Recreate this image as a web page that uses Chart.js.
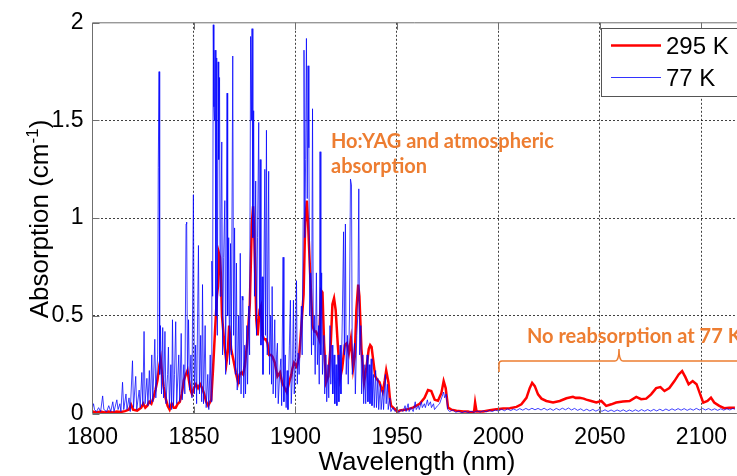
<!DOCTYPE html>
<html>
<head>
<meta charset="utf-8">
<script src="https://cdn.jsdelivr.net/npm/chart.js@4.4.1/dist/chart.umd.min.js"></script>
<style>
html, body { margin: 0; padding: 0; background: #fff; }
#wrap { width: 737px; height: 476px; }
</style>
</head>
<body>
<div id="wrap"><canvas id="myChart" width="737" height="476"></canvas></div>
<script>
// tick labels
const xTicks = [1800, 1850, 1900, 1950, 2000, 2050, 2100]
const yTicks = [0, 0.5, 1, 1.5, 2]
const xMax = 2116.5

// [wavelength nm, absorption cm^-1]
const spectrum295K = [
  [1800,0.01],[1802,0.005],[1804,0.01],[1806,0.005],[1808,0.01],[1810,0.005],[1812,0.01],[1814,0.008],
  [1816,0.012],[1818,0.02],[1819,0.045],[1820,0.02],[1822,0.015],[1824,0.03],[1825,0.05],[1826,0.03],
  [1827,0.04],[1828,0.06],[1829,0.05],[1830,0.08],[1831,0.12],[1832,0.17],[1833,0.25],[1833.6,0.28],
  [1834.3,0.2],[1835,0.14],[1836,0.08],[1837,0.04],[1838,0.02],[1839,0.05],[1840,0.03],[1841,0.03],
  [1842,0.05],[1843,0.06],[1844,0.1],[1845,0.17],[1846,0.2],[1846.8,0.22],[1847.5,0.17],[1848.3,0.12],
  [1849,0.1],[1850,0.13],[1851,0.15],[1852,0.13],[1853,0.15],[1854,0.13],[1855,0.1],[1856,0.06],
  [1857,0.04],[1858,0.06],[1858.5,0.07],[1859.4,0.23],[1860.4,0.43],[1861.3,0.6],[1861.8,0.65],[1862.3,0.82],
  [1862.8,0.8],[1863.2,0.72],[1863.8,0.5],[1865,0.35],[1866,0.26],[1866.7,0.32],[1867.3,0.45],[1868.3,0.33],
  [1869.3,0.28],[1870.6,0.21],[1871.7,0.16],[1872.5,0.2],[1873.4,0.21],[1874.2,0.2],[1875,0.24],[1876.2,0.36],
  [1877.5,0.56],[1878.5,0.97],[1879.1,1.06],[1879.6,0.95],[1880.1,0.75],[1880.7,0.48],[1881.4,0.4],[1882.3,0.53],
  [1883,0.55],[1883.8,0.4],[1884.5,0.38],[1885.4,0.38],[1886.2,0.36],[1887,0.3],[1888,0.3],[1888.7,0.29],
  [1889.8,0.26],[1891.1,0.19],[1892.4,0.21],[1893.4,0.16],[1894.7,0.13],[1895.7,0.11],[1896.9,0.16],[1898,0.2],
  [1898.5,0.23],[1899.3,0.26],[1900.6,0.24],[1901.8,0.29],[1903,0.46],[1904,0.61],[1904.8,0.98],[1905.6,1.09],
  [1906.3,0.95],[1907.3,0.7],[1908.4,0.45],[1909.3,0.42],[1910.1,0.42],[1911,0.4],[1911.7,0.38],[1912.6,0.63],
  [1913.3,0.62],[1914.1,0.36],[1915.1,0.16],[1916.2,0.19],[1917.4,0.36],[1918.2,0.56],[1919,0.59],[1919.8,0.53],
  [1920.8,0.36],[1922,0.18],[1923,0.23],[1924.3,0.35],[1925.3,0.36],[1926.3,0.31],[1927.3,0.38],[1928.4,0.23],
  [1929.2,0.29],[1930,0.53],[1930.9,0.66],[1931.5,0.6],[1932.5,0.33],[1933.8,0.16],[1934.9,0.23],[1936.1,0.33],
  [1936.8,0.35],[1937.5,0.34],[1938.1,0.29],[1939.3,0.19],[1940.5,0.17],[1941.4,0.16],[1942.3,0.13],[1943,0.11],
  [1944,0.17],[1944.7,0.22],[1945.8,0.16],[1946.5,0.08],[1947.1,0.04],[1948.7,0.025],[1950.3,0.01],[1951.4,0.015],
  [1954.6,0.02],[1957.9,0.03],[1961.2,0.05],[1963.6,0.08],[1965.3,0.12],[1966.9,0.115],[1968.6,0.07],[1970.2,0.065],
  [1971.9,0.105],[1973,0.166],[1974,0.13],[1975.2,0.03],[1976.8,0.02],[1979.3,0.014],[1982.6,0.01],[1985,0.01],
  [1986.6,0.005],[1988,0.01],[1988.5,0.056],[1989.2,0.01],[1992.4,0.01],[1995.7,0.017],[1999,0.022],[2002.3,0.025],
  [2005.6,0.027],[2008.9,0.034],[2011.3,0.047],[2013.8,0.08],[2015.4,0.13],[2016.6,0.157],[2017.9,0.14],[2019.5,0.098],
  [2021.2,0.076],[2023.6,0.064],[2026.9,0.056],[2030.2,0.064],[2033.5,0.078],[2036.7,0.085],[2038,0.08],[2040,0.081],
  [2042,0.076],[2043.3,0.071],[2045.7,0.064],[2048.2,0.056],[2050.7,0.064],[2053.1,0.039],[2055.6,0.047],[2058,0.056],
  [2061.3,0.061],[2064.6,0.064],[2067.9,0.085],[2070.3,0.073],[2072.8,0.076],[2075.2,0.098],[2077.7,0.13],[2079.8,0.135],
  [2081.8,0.115],[2084.2,0.13],[2086.7,0.166],[2088.8,0.2],[2090.5,0.217],[2092.1,0.186],[2093.7,0.15],[2095.7,0.166],
  [2097.6,0.15],[2099.4,0.098],[2100.9,0.056],[2103,0.064],[2104.7,0.081],[2106.3,0.056],[2108.8,0.039],[2111.2,0.027],
  [2113.7,0.03],[2117,0.03],[2119,0.03]
]

const spectrum77K = [
  [1800,0.03],[1800.5,0.05],[1801,0.02],[1802,0.01],[1803,0.03],[1804,0.01],[1805,0.09],[1805.6,0.02],
  [1807,0.01],[1808,0.04],[1809,0.01],[1810,0.06],[1810.6,0.01],[1812,0.07],[1812.6,0.02],[1813.5,0.05],
  [1814,0.01],[1814.8,0.16],[1815.4,0.02],[1816.5,0.1],[1817,0.02],[1818,0.08],[1818.6,0.01],[1819.7,0.27],
  [1820.2,0.03],[1821.3,0.19],[1821.8,0.02],[1823,0.12],[1823.5,0.03],[1824.3,0.21],[1824.8,0.04],[1825.4,0.42],
  [1825.9,0.05],[1826.8,0.18],[1827.3,0.04],[1828,0.22],[1828.5,0.05],[1829.2,0.3],[1829.7,0.06],[1830.7,0.38],
  [1831.2,0.08],[1832.1,0.3],[1832.4,1.26],[1832.8,1.75],[1833.1,0.2],[1833.5,0.45],[1834,0.1],[1834.6,0.44],
  [1835,0.08],[1835.7,0.42],[1836.2,0.05],[1837,0.2],[1837.4,0.34],[1837.9,0.03],[1838.6,0.25],[1839,0.02],
  [1839.4,0.48],[1839.9,0.04],[1840.4,0.2],[1841,0.47],[1841.5,0.05],[1842.5,0.3],[1843,0.06],[1843.7,0.41],
  [1844.2,0.07],[1845,0.25],[1845.5,0.1],[1846.1,0.97],[1846.4,0.98],[1846.8,0.2],[1847.3,0.48],[1847.8,0.12],
  [1848.5,0.3],[1849,0.08],[1849.7,1.12],[1850.2,0.1],[1850.8,0.35],[1851.3,0.05],[1852.2,0.86],[1852.7,0.1],
  [1853.3,0.4],[1853.8,0.06],[1854.2,0.66],[1854.7,0.05],[1855.5,0.45],[1856,0.03],[1856.8,0.2],[1857.3,0.02],
  [1858,0.3],[1858.4,0.06],[1858.8,0.78],[1859.2,0.6],[1859.5,1.99],[1859.8,1.57],[1860.1,1.5],[1860.4,1.86],
  [1860.8,0.5],[1861.2,1.82],[1861.5,0.4],[1861.9,1.8],[1862.2,1.3],[1862.6,1.72],[1862.9,0.6],[1863.3,1.0],
  [1863.7,1.39],[1864.1,0.3],[1864.6,0.8],[1865.2,1.09],[1865.6,0.2],[1866.3,1.64],[1866.6,0.5],[1867.1,0.9],
  [1867.5,0.25],[1868,0.87],[1868.4,0.3],[1869.1,1.83],[1869.5,0.4],[1870,0.95],[1870.4,0.2],[1870.9,0.77],
  [1871.3,0.12],[1872,0.5],[1872.4,0.15],[1872.8,0.82],[1873.2,0.1],[1873.7,0.6],[1874.1,0.58],[1874.5,0.08],
  [1875,0.35],[1875.4,0.1],[1876,0.45],[1876.4,0.15],[1877,0.55],[1877.4,0.3],[1877.9,1.93],[1878.3,1.5],
  [1878.6,1.97],[1879,0.9],[1879.4,1.55],[1879.8,0.6],[1880.4,1.19],[1880.8,0.4],[1881.3,0.9],[1881.9,1.49],
  [1882.3,0.5],[1882.6,1.3],[1883,0.35],[1883.6,0.7],[1884,0.2],[1884.9,1.25],[1885.2,0.4],[1885.7,1.45],
  [1886.1,0.3],[1886.8,1.24],[1887.2,0.2],[1887.8,0.5],[1888.2,0.15],[1888.5,0.65],[1889,0.1],[1889.8,0.48],
  [1890.2,0.08],[1890.7,0.3],[1891.1,0.36],[1891.5,0.05],[1892.2,0.2],[1892.8,0.28],[1893.2,0.04],[1893.9,0.8],
  [1894.3,0.06],[1895,0.3],[1895.4,0.03],[1895.9,0.22],[1896.3,0.02],[1897,0.35],[1897.5,0.58],[1897.9,0.05],
  [1898.5,0.2],[1899,0.58],[1899.4,0.1],[1900,0.3],[1900.5,0.68],[1900.9,0.15],[1901.3,0.31],[1901.8,0.2],
  [1902.5,0.4],[1902.9,0.55],[1903.3,0.3],[1903.8,1.0],[1904.2,1.86],[1904.6,0.9],[1905,1.3],[1905.4,1.92],
  [1905.8,1.1],[1906.2,1.78],[1906.6,1.36],[1907,0.5],[1907.5,0.72],[1907.9,0.3],[1908.4,1.56],[1908.8,0.35],
  [1909.3,0.5],[1909.7,0.2],[1910.3,0.72],[1910.8,0.25],[1911.4,0.45],[1911.7,0.15],[1912.1,1.34],[1912.5,0.3],
  [1912.9,0.72],[1913.3,0.2],[1914,0.4],[1914.4,0.1],[1915,0.3],[1915.4,0.06],[1916,0.25],[1916.4,0.08],
  [1917,0.45],[1917.4,0.15],[1918,0.35],[1918.4,0.1],[1919,0.3],[1919.4,0.05],[1920,0.25],[1920.4,0.04],
  [1921,0.3],[1921.4,0.06],[1922,0.35],[1922.4,0.1],[1923.1,0.5],[1923.7,0.93],[1924.1,0.3],[1924.6,0.97],
  [1925,0.2],[1925.6,0.4],[1926,0.15],[1926.6,0.5],[1927.1,1.2],[1927.6,1.17],[1928,0.2],[1928.6,0.3],
  [1929.1,0.36],[1929.5,0.1],[1930.2,0.4],[1930.7,0.5],[1931.2,1.15],[1931.6,0.3],[1932.2,0.45],[1932.6,0.1],
  [1933.2,0.3],[1933.6,0.05],[1934.2,0.25],[1934.6,0.05],[1935.3,0.3],[1935.7,0.06],[1936.3,0.25],[1936.7,0.05],
  [1937.3,0.28],[1937.7,0.04],[1938.4,0.2],[1938.8,0.03],[1939.5,0.22],[1939.9,0.03],[1940.6,0.18],[1941,0.02],
  [1941.8,0.15],[1942.2,0.02],[1943,0.12],[1943.4,0.02],[1944.3,0.2],[1944.7,0.05],[1945.3,0.15],[1945.7,0.02],
  [1946.5,0.08],[1947,0.01],[1948,0.03],[1949,0.01],[1950,0.02],[1951,0.005],[1952,0.02],[1953,0.01],
  [1954,0.04],[1954.5,0.01],[1955.5,0.05],[1956,0.01],[1957,0.03],[1958,0.01],[1959,0.06],[1959.5,0.02],
  [1960.5,0.04],[1961,0.02],[1962,0.06],[1962.5,0.03],[1963.5,0.05],[1964,0.03],[1965,0.07],[1965.5,0.04],
  [1966.5,0.06],[1967,0.03],[1968,0.05],[1968.5,0.02],[1970,0.04],[1971,0.05],[1972,0.08],[1973,0.11],
  [1973.5,0.08],[1974.3,0.1],[1975,0.02],[1976,0.01],[1977.5,0.018],[1979,0.006],[1980.5,0.012],[1982,0.004],
  [1983.5,0.011],[1985,0.005],[1986.5,0.012],[1988,0.006],[1989.5,0.013],[1991,0.007],[1992.5,0.014],[1994,0.009],
  [1995.5,0.016],[1997,0.01],[1998.5,0.018],[2000,0.012],[2001.5,0.022],[2003,0.014],[2004.5,0.024],[2006,0.015],
  [2007.5,0.023],[2009,0.016],[2010.5,0.025],[2012,0.017],[2013.5,0.026],[2015,0.018],[2016.5,0.027],[2018,0.019],
  [2019.5,0.026],[2021,0.018],[2022.5,0.027],[2024,0.017],[2025.5,0.025],[2027,0.016],[2028.5,0.026],[2030,0.018],
  [2031.5,0.027],[2033,0.019],[2034.5,0.028],[2036,0.018],[2037.5,0.026],[2039,0.016],[2040.5,0.024],[2042,0.014],
  [2043.5,0.022],[2045,0.013],[2046.5,0.021],[2048,0.012],[2049.5,0.02],[2051,0.011],[2052.5,0.019],[2054,0.01],
  [2055.5,0.018],[2057,0.01],[2058.5,0.018],[2060,0.011],[2061.5,0.019],[2063,0.01],[2064.5,0.018],[2066,0.011],
  [2067.5,0.019],[2069,0.011],[2070.5,0.02],[2072,0.012],[2073.5,0.02],[2075,0.012],[2076.5,0.021],[2078,0.013],
  [2079.5,0.022],[2081,0.014],[2082.5,0.023],[2084,0.015],[2085.5,0.024],[2087,0.016],[2088.5,0.025],[2090,0.017],
  [2091.5,0.025],[2093,0.016],[2094.5,0.024],[2096,0.017],[2097.5,0.026],[2099,0.018],[2100.5,0.026],[2102,0.018],
  [2103.5,0.025],[2105,0.017],[2106.5,0.024],[2108,0.016],[2109.5,0.024],[2111,0.017],[2112.5,0.025],[2114,0.018],
  [2115.5,0.026],[2117,0.019],[2118.5,0.024]
]

const toPoints = arr => arr.map(([x, y]) => ({ x, y }))

const FRAME = '#6f6f6f'
const ORANGE = 'rgb(237,125,49)'
const FONT = '"Liberation Sans", Arial, sans-serif'

// frame, inner ticks, legend, notes and axis titles
const overlay = {
  id: 'overlay',
  afterDraw(chart) {
    const ctx = chart.ctx
    const a = chart.chartArea
    const xs = chart.scales.x
    const ys = chart.scales.y
    ctx.save()
    ctx.setLineDash([])

    ctx.strokeStyle = FRAME
    ctx.lineWidth = 1
    ctx.beginPath()
    ctx.moveTo(a.right + 2, a.top)
    ctx.lineTo(a.left, a.top)
    ctx.lineTo(a.left, a.bottom)
    ctx.lineTo(a.right + 2, a.bottom)
    for (const v of xTicks.slice(1)) {
      const px = Math.round(xs.getPixelForValue(v)) + 0.5
      ctx.moveTo(px, a.bottom); ctx.lineTo(px, a.bottom - 7)
      ctx.moveTo(px, a.top); ctx.lineTo(px, a.top + 7)
    }
    for (const v of yTicks) {
      const py = Math.round(ys.getPixelForValue(v)) + 0.5
      ctx.moveTo(a.left, py); ctx.lineTo(a.left + 7, py)
    }
    ctx.stroke()

    // legend box
    ctx.fillStyle = '#fff'
    ctx.fillRect(601.5, 28.5, 140, 68)
    ctx.strokeStyle = '#555'
    ctx.strokeRect(601.5, 28.5, 140, 68)
    ctx.lineWidth = 2.5
    ctx.strokeStyle = 'rgb(255,0,0)'
    ctx.beginPath(); ctx.moveTo(611, 45.5); ctx.lineTo(661, 45.5); ctx.stroke()
    ctx.lineWidth = 1
    ctx.strokeStyle = 'rgba(0,0,255,0.8)'
    ctx.beginPath(); ctx.moveTo(611, 77.5); ctx.lineTo(661, 77.5); ctx.stroke()
    ctx.fillStyle = '#000'
    ctx.font = '24px ' + FONT
    ctx.textBaseline = 'alphabetic'
    ctx.textAlign = 'left'
    ctx.fillText('295 K', 666, 54)
    ctx.fillText('77 K', 666, 86)

    // notes
    ctx.fillStyle = ORANGE
    ctx.font = 'bold 20px Lato, "Open Sans", sans-serif'
    ctx.fillText('Ho:YAG and atmospheric', 331, 148)
    ctx.fillText('absorption', 331, 173)
    ctx.fillText('No reabsorption at 77 K', 527, 343)

    ctx.strokeStyle = ORANGE
    ctx.lineWidth = 1.5
    ctx.beginPath()
    ctx.moveTo(499, 372)
    ctx.lineTo(499, 364)
    ctx.quadraticCurveTo(499, 361, 502, 361)
    ctx.lineTo(615, 361)
    ctx.quadraticCurveTo(619, 361, 619, 349)
    ctx.quadraticCurveTo(619, 361, 623, 361)
    ctx.lineTo(745, 361)
    ctx.stroke()

    // axis titles
    ctx.fillStyle = '#000'
    ctx.font = '26px ' + FONT
    ctx.textAlign = 'center'
    ctx.fillText('Wavelength (nm)', 417, 470)

    ctx.translate(48, 219)
    ctx.rotate(-Math.PI / 2)
    ctx.textAlign = 'left'
    const part1 = 'Absorption (cm'
    const sup = '-1'
    const part2 = ')'
    ctx.font = '26px ' + FONT
    const w1 = ctx.measureText(part1).width
    const w3 = ctx.measureText(part2).width
    ctx.font = '17px ' + FONT
    const w2 = ctx.measureText(sup).width
    let x0 = -(w1 + w2 + w3) / 2
    ctx.font = '26px ' + FONT
    ctx.fillText(part1, x0, 0)
    ctx.font = '17px ' + FONT
    ctx.fillText(sup, x0 + w1, -10)
    ctx.font = '26px ' + FONT
    ctx.fillText(part2, x0 + w1 + w2, 0)
    ctx.restore()
  }
}

const ctx = document.getElementById('myChart').getContext('2d')
const myChart = new Chart(ctx, {
  type: 'line',
  data: {
    datasets: [
      {
        label: '295 K',
        data: toPoints(spectrum295K),
        borderColor: 'rgb(255,0,0)',
        borderWidth: 2.5,
        pointRadius: 0,
        tension: 0,
        fill: false,
        order: 2
      },
      {
        label: '77 K',
        data: toPoints(spectrum77K),
        borderColor: 'rgba(0,0,255,0.75)',
        borderWidth: 1,
        pointRadius: 0,
        tension: 0,
        fill: false,
        order: 1
      }
    ]
  },
  options: {
    responsive: false,
    animation: false,
    layout: { padding: { top: 19.5, left: 0, right: 0, bottom: 0 } },
    plugins: { legend: { display: false }, tooltip: { enabled: false } },
    scales: {
      x: {
        type: 'linear',
        min: 1800,
        max: xMax,
        afterFit: s => { s.height = 476 - 413.5 },
        afterBuildTicks: s => { s.ticks = xTicks.map(v => ({ value: v })) },
        border: { display: false, dash: [2, 2] },
        grid: {
          drawTicks: false,
          color: c => (c.tick && c.tick.value === 1800) ? 'rgba(0,0,0,0)' : 'rgba(0,0,0,0.75)'
        },
        ticks: {
          padding: 10,
          color: '#000',
          font: { family: FONT, size: 23 },
          maxRotation: 0,
          callback: v => String(v)
        }
      },
      y: {
        min: 0,
        max: 2,
        afterFit: s => { s.width = 92.5 },
        afterBuildTicks: s => { s.ticks = yTicks.map(v => ({ value: v })) },
        border: { display: false, dash: [2, 2] },
        grid: {
          drawTicks: false,
          color: c => (c.tick && (c.tick.value === 0 || c.tick.value === 2)) ? 'rgba(0,0,0,0)' : 'rgba(0,0,0,0.75)'
        },
        ticks: {
          padding: 9,
          color: '#000',
          font: { family: FONT, size: 23 },
          callback: v => String(v)
        }
      }
    }
  },
  plugins: [overlay]
})
</script>
</body>
</html>
